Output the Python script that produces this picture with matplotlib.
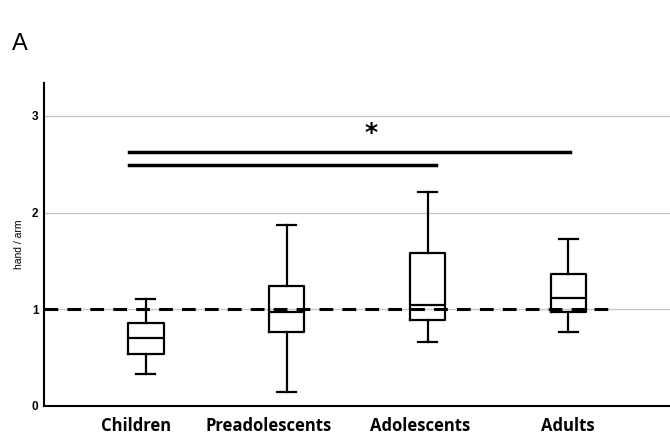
import matplotlib
matplotlib.use("Agg")
import matplotlib.pyplot as plt

categories = ["Children", "Preadolescents", "Adolescents", "Adults"]
whislo = [0.33, 0.14, 0.66, 0.77]
q1 = [0.54, 0.76, 0.89, 0.97]
med = [0.70, 0.97, 1.04, 1.12]
q3 = [0.86, 1.24, 1.58, 1.37]
whishi = [1.11, 1.87, 2.21, 1.73]
ref_value = 1.0
sig_start = [-0.12, -0.12]
sig_end = [3.01, 2.06]
sig_y = [2.63, 2.49]
yticks = [0, 1, 2, 3]
label_shift = [-0.064, -0.124, -0.051, -0.006]

fig = plt.figure(figsize=(6.7, 4.38), dpi=100)
ax = fig.add_axes([0.0657, 0.0731, 0.9343, 0.7374])

stats = []
for i, c in enumerate(categories):
    stats.append(dict(label=c, med=med[i], q1=q1[i], q3=q3[i],
                      whislo=whislo[i], whishi=whishi[i], fliers=[]))
pos = list(range(len(categories)))
ax.bxp(stats, positions=pos, widths=0.255, showfliers=False,
       boxprops=dict(color="black", linewidth=1.6),
       medianprops=dict(color="black", linewidth=1.6),
       whiskerprops=dict(color="black", linewidth=1.6),
       capprops=dict(color="black", linewidth=1.6),
       capwidths=0.13, zorder=3)

ax.set_xlim(-0.72, 3.72)
ax.set_ylim(0, 3.34)
ax.set_yticks(yticks)
ax.set_yticklabels([str(t) for t in yticks], fontsize=8.5, fontweight="bold",
                   family="Liberation Sans")
ax.grid(axis="y", color="#c8c8c8", linewidth=1.0, zorder=0)
ax.set_axisbelow(True)
ax.tick_params(axis="y", length=0, pad=4)
ax.tick_params(axis="x", length=0, pad=8)
ax.set_xticks([p + s for p, s in zip(pos, label_shift)])
ax.set_xticklabels(categories, fontsize=12, fontweight="bold", family="Open Sans")
ax.set_ylabel("hand / arm", fontsize=7.5, family="Liberation Sans", labelpad=6)

for s in ["top", "right"]:
    ax.spines[s].set_visible(False)
ax.spines["left"].set_linewidth(1.5)
ax.spines["bottom"].set_linewidth(1.5)

# reference dashed line
ax.plot([-0.72, 3.29], [ref_value, ref_value], color="black", linewidth=2.2,
        linestyle=(0, (4.5, 3)), zorder=4)

# significance bars
for xs, xe, y in zip(sig_start, sig_end, sig_y):
    ax.plot([xs, xe], [y, y], color="black", linewidth=2.5, zorder=4)
ax.text(1.6, 2.82, "*", ha="center", va="center", fontsize=18,
        fontweight="bold", family="DejaVu Sans")

fig.text(0.018, 0.885, "A", fontsize=17, family="Liberation Sans")

fig.savefig("out.png", dpi=100)
